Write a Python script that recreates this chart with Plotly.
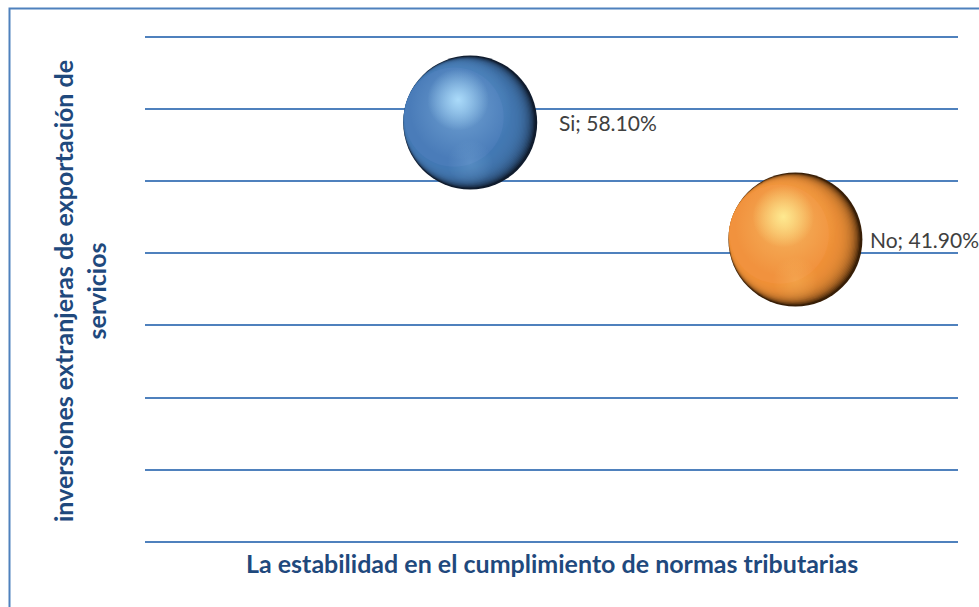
import math
import plotly.graph_objects as go

# --- data ---------------------------------------------------------------
categorias = ["Si", "No"]
posicion_x = [1, 2]
porcentajes = [58.10, 41.90]          # %
tamano_burbuja = [1.0, 1.0]            # relative bubble size

titulo_x = "La estabilidad en el cumplimiento de normas tributarias"
titulo_y = "inversiones extranjeras de exportación de<br>servicios"

# --- style ----------------------------------------------------------------
W, H = 979, 607
M_L, M_R, M_T, M_B = 145, 21, 33, 65
PLOT_W = W - M_L - M_R
PLOT_H = H - M_T - M_B
X_RANGE = [0, 2.5]
Y_RANGE = [0, 70.5]
DIAM = 134  # px diameter of a bubble of relative size 1

# sphere shading palettes
paletas = {
    "Si": dict(mid="rgb(74,124,185)", dark="rgb(16,28,46)", light="rgb(178,226,255)"),
    "No": dict(mid="rgb(241,146,62)", dark="rgb(56,30,6)", light="rgb(255,240,150)"),
}

px_per_x = PLOT_W / (X_RANGE[1] - X_RANGE[0])
px_per_y = PLOT_H / (Y_RANGE[1] - Y_RANGE[0])


def rgba(rgb, a):
    return rgb.replace("rgb(", "rgba(").replace(")", f",{a})")


def capa(fig, x, y, dx, dy, size, color, grad=None, opacity=1.0):
    """One shading disc, offset by (dx, dy) pixels from the bubble centre."""
    marker = dict(size=size, color=color, line=dict(width=0), opacity=opacity)
    if grad is not None:
        marker["gradient"] = dict(type="radial", color=grad)
    fig.add_trace(go.Scatter(
        x=[x + dx / px_per_x], y=[y - dy / px_per_y], mode="markers",
        hoverinfo="skip", showlegend=False, marker=marker,
    ))


fig = go.Figure()

ang = math.radians(18)  # direction of the light (towards upper left)
for cat, x, y, s in zip(categorias, posicion_x, porcentajes, tamano_burbuja):
    p = paletas[cat]
    d = DIAM * s
    # dark base disc: becomes the shadowed rim on the lower right
    capa(fig, x, y, 0, 0, d, p["dark"])
    # stacked body discs pushed toward the light, giving a soft terminator
    n = 24
    for i in range(n):
        r = d / 2 * (0.74 + 0.24 * i / (n - 1))
        off = d / 2 - r
        capa(fig, x, y, -off * math.cos(ang), -off * math.sin(ang), 2 * r,
             p["mid"], opacity=0.17)
    capa(fig, x, y, -0.12 * d, -0.04 * d, 0.74 * d, p["mid"])
    # faint reflected light near the bottom
    capa(fig, x, y, 0.0, 0.3 * d, 0.34 * d, rgba(p["light"], 0),
         grad=rgba(p["light"], 0.18))
    # broad sheen and specular highlight
    capa(fig, x, y, -0.07 * d, -0.1 * d, 0.76 * d, rgba(p["light"], 0),
         grad=rgba(p["light"], 0.35))
    capa(fig, x, y, -0.09 * d, -0.17 * d, 0.46 * d, rgba(p["light"], 0),
         grad=rgba(p["light"], 0.9))

# value labels to the right of each bubble
label_shift = {"Si": 87, "No": 73}
for cat, x, y in zip(categorias, posicion_x, porcentajes):
    fig.add_annotation(
        x=x, y=y, xref="x", yref="y", text=f"{cat}; {y:.2f}%",
        showarrow=False, xanchor="left", yanchor="middle",
        xshift=label_shift[cat], yshift=0,
        font=dict(family="Lato", size=21, color="#404040"),
    )

# axis titles
fig.add_annotation(
    x=0.5, y=-(563 - (H - M_B)) / PLOT_H, xref="paper", yref="paper",
    text=f"<b>{titulo_x}</b>", showarrow=False, xanchor="center", yanchor="middle",
    font=dict(family="Lato", size=25, color="#1f497d"),
)
fig.add_annotation(
    x=(79 - M_L) / PLOT_W, y=((H - M_B) - 291) / PLOT_H, xref="paper", yref="paper",
    text=f"<b>{titulo_y}</b>", showarrow=False, textangle=-90,
    xanchor="center", yanchor="middle",
    font=dict(family="Lato", size=25, color="#1f497d"),
)

# chart border
fig.add_shape(
    type="rect", xref="paper", yref="paper",
    x0=(9.5 - M_L) / PLOT_W, x1=(W + 40 - M_L) / PLOT_W,
    y0=((H - M_B) - (H + 40)) / PLOT_H, y1=((H - M_B) - 8.5) / PLOT_H,
    line=dict(color="#4f81bd", width=2), fillcolor="rgba(0,0,0,0)", layer="below",
)

fig.update_layout(
    width=W, height=H,
    margin=dict(l=M_L, r=M_R, t=M_T, b=M_B),
    paper_bgcolor="white", plot_bgcolor="white",
    xaxis=dict(range=X_RANGE, showgrid=False, zeroline=False, showticklabels=False,
               ticks="", showline=False, fixedrange=True),
    yaxis=dict(range=Y_RANGE, tick0=0, dtick=10, showgrid=True, gridcolor="#4f81bd",
               gridwidth=1.6, zeroline=True, zerolinecolor="#4f81bd", zerolinewidth=1.6,
               showticklabels=False, ticks="", showline=False, fixedrange=True),
)

fig.write_html("out.html")
